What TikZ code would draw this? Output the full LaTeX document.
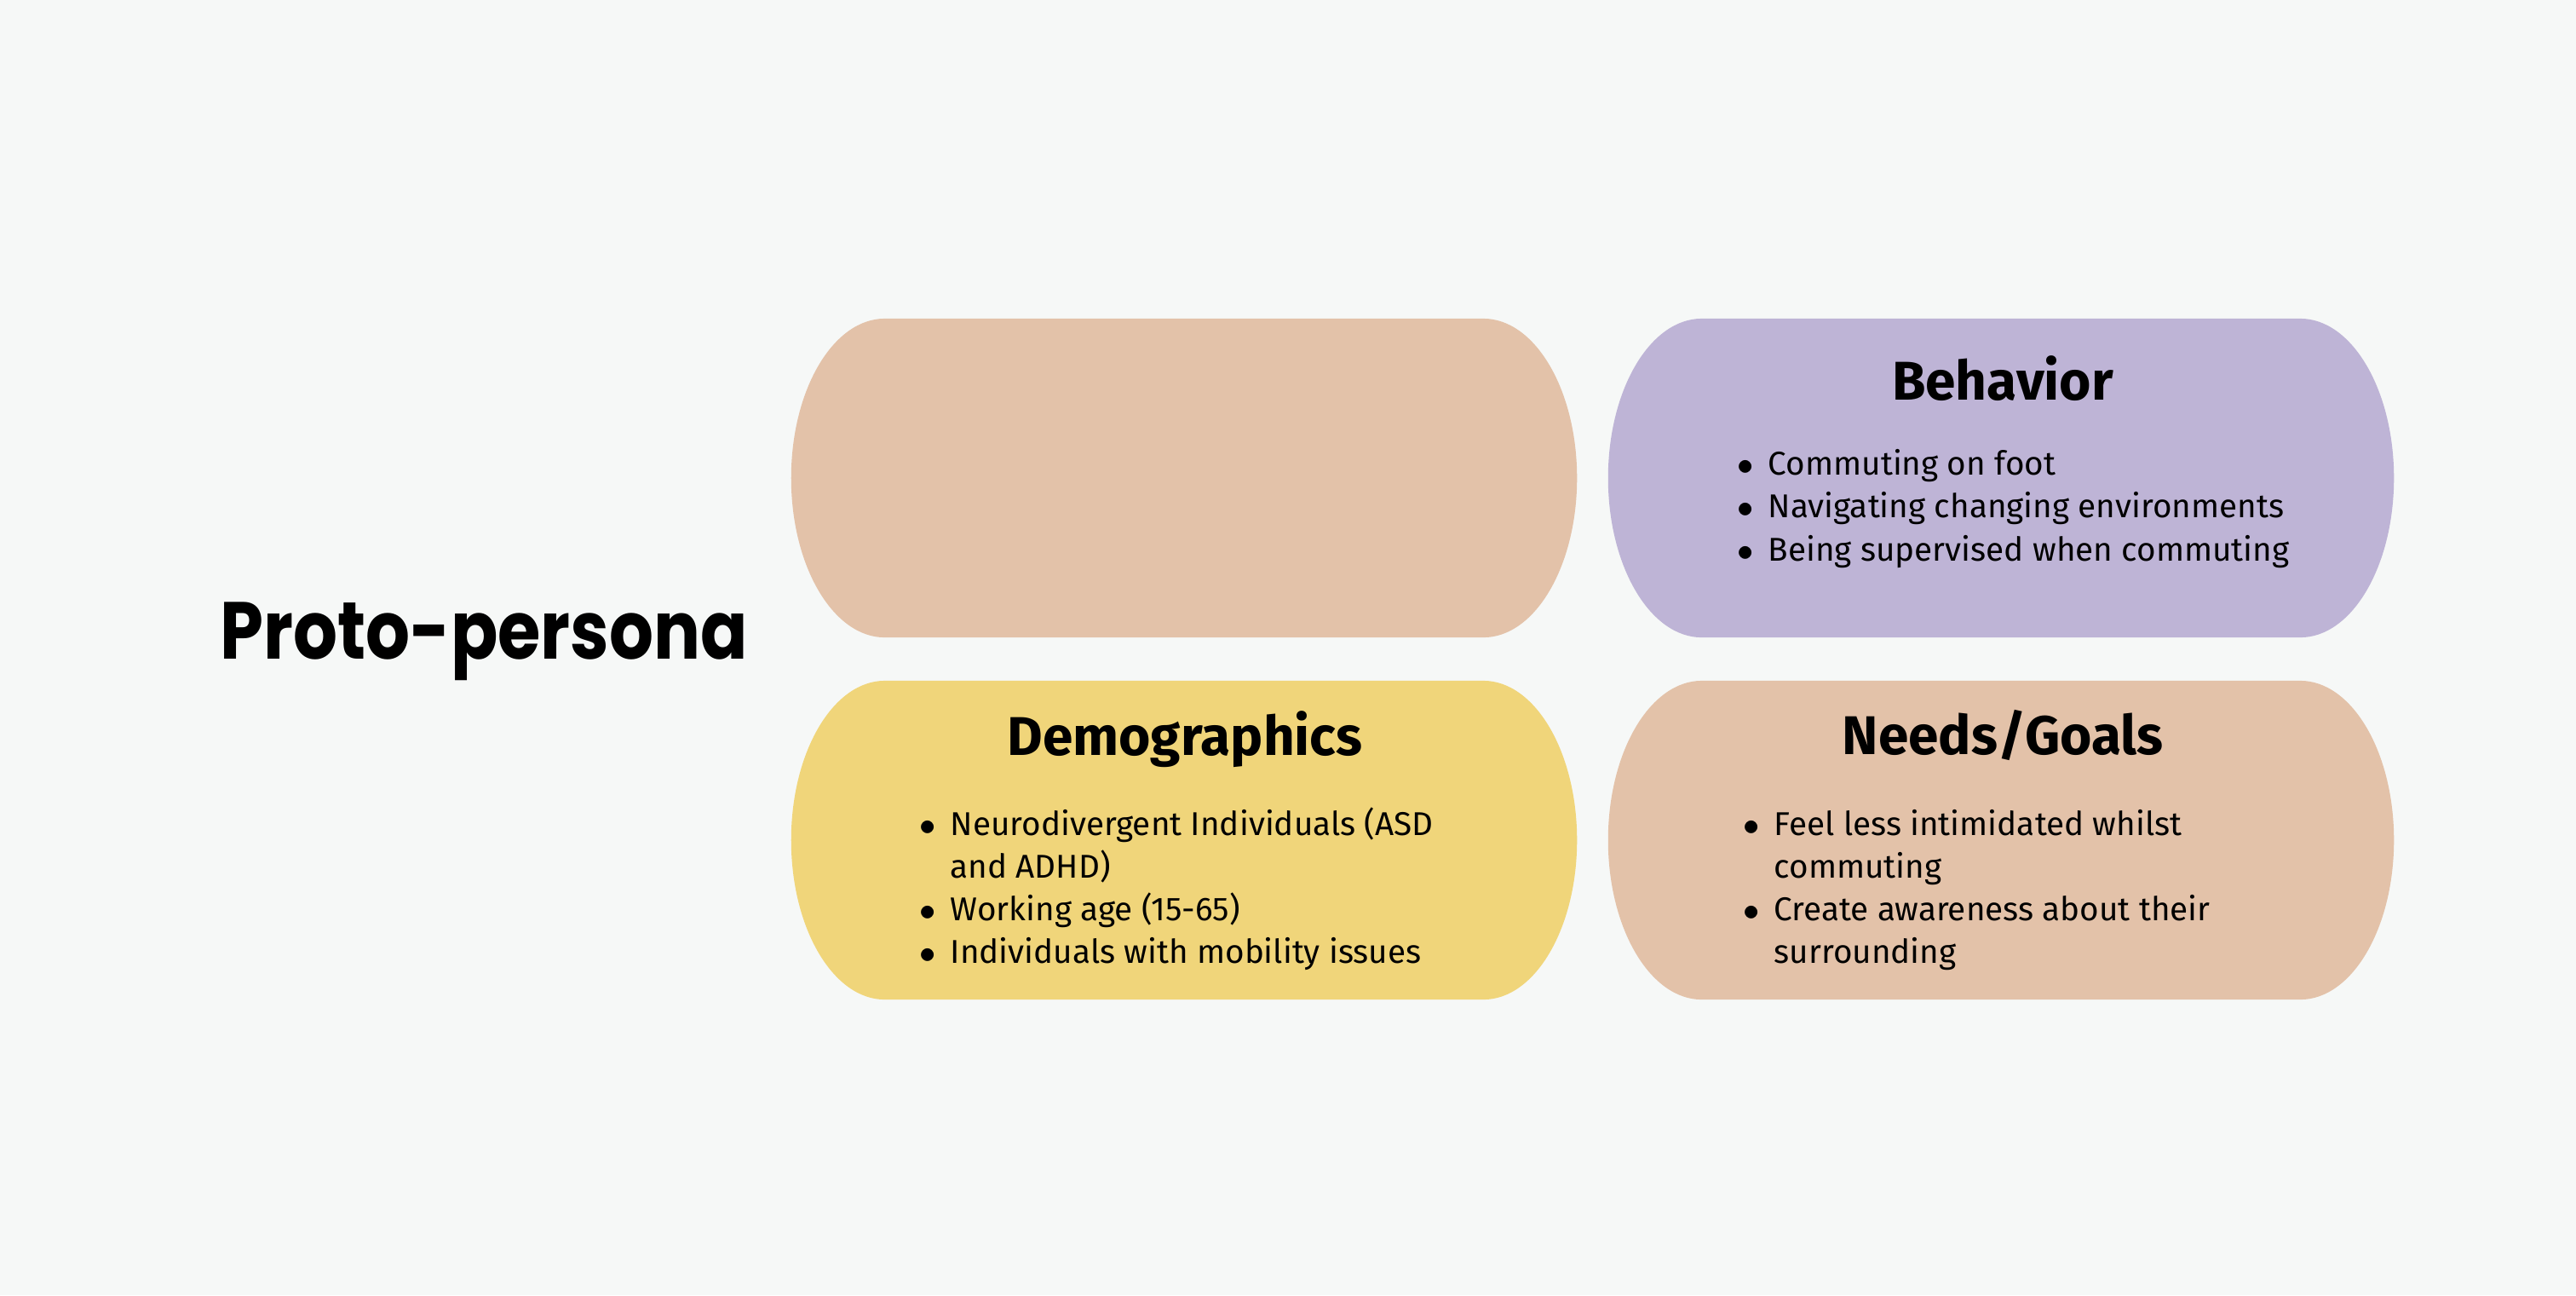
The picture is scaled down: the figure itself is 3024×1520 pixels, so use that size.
\documentclass[tikz,border=0pt]{standalone}
\usepackage{fontspec}
\setmainfont{Fira Sans}
\newfontfamily\titlefont{Poppins}

\definecolor{bgcol}{HTML}{F6F8F7}
\definecolor{tancol}{HTML}{E3C2A9}
\definecolor{lilac}{HTML}{BEB4D6}
\definecolor{sand}{HTML}{F0D57A}

\tikzset{
  card/.style={rectangle, minimum width=9.22cm, minimum height=3.74cm, inner sep=0pt, outer sep=0pt},
  head/.style={anchor=base, inner sep=0pt, font=\fontsize{18.2}{22}\selectfont\bfseries},
  entry/.style={anchor=base west, inner sep=0pt, font=\fontsize{11}{13}\selectfont},
}
\newcommand\dotmark{\llap{$\bullet$\hspace{0.17cm}}}
% filled card with elliptical ends
\newcommand\capsule[2]{%
  \fill[#2] ([xshift=1.1cm]#1.north west) -- ([xshift=-1.1cm]#1.north east)
    arc[start angle=90, end angle=-90, x radius=1.1cm, y radius=1.87cm]
    -- ([xshift=1.1cm]#1.south west)
    arc[start angle=270, end angle=90, x radius=1.1cm, y radius=1.87cm] -- cycle;}

\begin{document}
\begin{tikzpicture}[x=0.01cm,y=-0.01cm]
\fill[bgcol] (0,0) rectangle (3024,1520);
\useasboundingbox (0,0) rectangle (3024,1520);

% the four cards
\node[card] (persona) at (1390,561) {};
\node[card] (behav) at (2349,561) {};
\node[card] (demo) at (1390,986) {};
\node[card] (needs) at (2349,986) {};
\capsule{persona}{tancol}
\capsule{behav}{lilac}
\capsule{demo}{sand}
\capsule{needs}{tancol}

\node[anchor=base west, inner sep=0pt, font=\titlefont\bfseries\fontsize{27}{30}\selectfont]
  (title) at (258,773) {\scalebox{0.86}[1]{Proto-persona}};

% Behavior
\node[head] (behav-head) at (2351,469) {Behavior};
\foreach \txt [count=\i from 0] in {Commuting on foot, Navigating changing environments,
    Being supervised when commuting}
  \node[entry] (behav-\i) at (2075,557+\i*50.5) {\dotmark\txt};

% Demographics
\node[head] (demo-head) at (1391,886) {Demographics};
\foreach \txt/\b [count=\i from 0] in {{Neurodivergent Individuals (ASD}/1, {and ADHD)}/0,
    {Working age (15-65)}/1, {Individuals with mobility issues}/1}
  \node[entry] (demo-\i) at (1115,980+\i*50) {\ifnum\b=1 \dotmark\fi\txt};

% Needs/Goals
\node[head] (needs-head) at (2351,885) {Needs/Goals};
\foreach \txt/\b [count=\i from 0] in {{Feel less intimidated whilst}/1, {commuting}/0,
    {Create awareness about their}/1, {surrounding}/0}
  \node[entry] (needs-\i) at (2082,980+\i*50) {\ifnum\b=1 \dotmark\fi\txt};
\end{tikzpicture}
\end{document}
